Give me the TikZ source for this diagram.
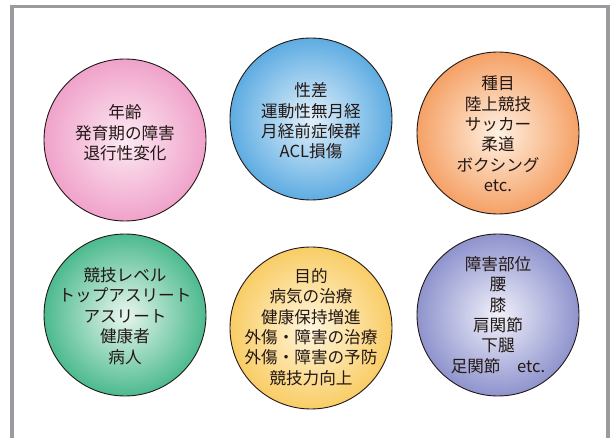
\documentclass[tikz,border=0pt]{standalone}
\usepackage{fontspec}
\newfontfamily\jp{Noto Sans CJK JP}
\definecolor{frame}{HTML}{9A9B9F}
\definecolor{ink}{HTML}{231815}
\definecolor{pinkO}{HTML}{F0A2CA}\definecolor{pinkI}{HTML}{FCEAF3}
\definecolor{blueO}{HTML}{5EACE2}\definecolor{blueI}{HTML}{E2F1FB}
\definecolor{oranO}{HTML}{F5A166}\definecolor{oranI}{HTML}{FFF1E2}
\definecolor{greeO}{HTML}{4CBA8E}\definecolor{greeI}{HTML}{E8F6EF}
\definecolor{yellO}{HTML}{F9CD66}\definecolor{yellI}{HTML}{FFF6DE}
\definecolor{purpO}{HTML}{8E93CD}\definecolor{purpI}{HTML}{F1F1FA}
\tikzset{
  ball/.style 2 args={circle, draw=ink, line width=0.9pt, minimum size=162pt, inner sep=0pt,
    inner color=#2, outer color=#1},
  lbl/.style={align=center, inner sep=0pt, text=ink, font=\jp\fontsize{16.6}{20.4}\selectfont}
}
\begin{document}
\begin{tikzpicture}[x=1pt,y=-1pt]
\useasboundingbox (0,0) rectangle (616,438);
\draw[frame, line width=3.6pt] (11.8,440) -- (11.8,6.6) -- (608.2,6.6) -- (608.2,440);
\node[ball={pinkO}{pinkI}] (c1) at (125,140) {};
\node[ball={blueO}{blueI}] (c2) at (311,119) {};
\node[ball={oranO}{oranI}] (c3) at (498,133) {};
\node[ball={greeO}{greeI}] (c4) at (125,315) {};
\node[ball={yellO}{yellI}] (c5) at (311,328) {};
\node[ball={purpO}{purpI}] (c6) at (498,315) {};
\node[lbl] (t1) at (125,133) {年齢\\発育期の障害\\退行性変化};
\node[lbl] (t2) at (311,121) {性差\\運動性無月経\\月経前症候群\\ACL損傷};
\node[lbl] (t3) at (498,134) {種目\\陸上競技\\サッカー\\柔道\\ボクシング\\etc.};
\node[lbl] (t4) at (125,316) {競技レベル\\トップアスリート\\アスリート\\健康者\\病人};
\node[lbl] (t5) at (311,327) {目的\\病気の治療\\健康保持増進\\外傷・障害の治療\\外傷・障害の予防\\競技力向上};
\node[lbl] (t6) at (498,315) {障害部位\\腰\\膝\\肩関節\\下腿\\足関節\quad etc.};
\end{tikzpicture}
\end{document}
